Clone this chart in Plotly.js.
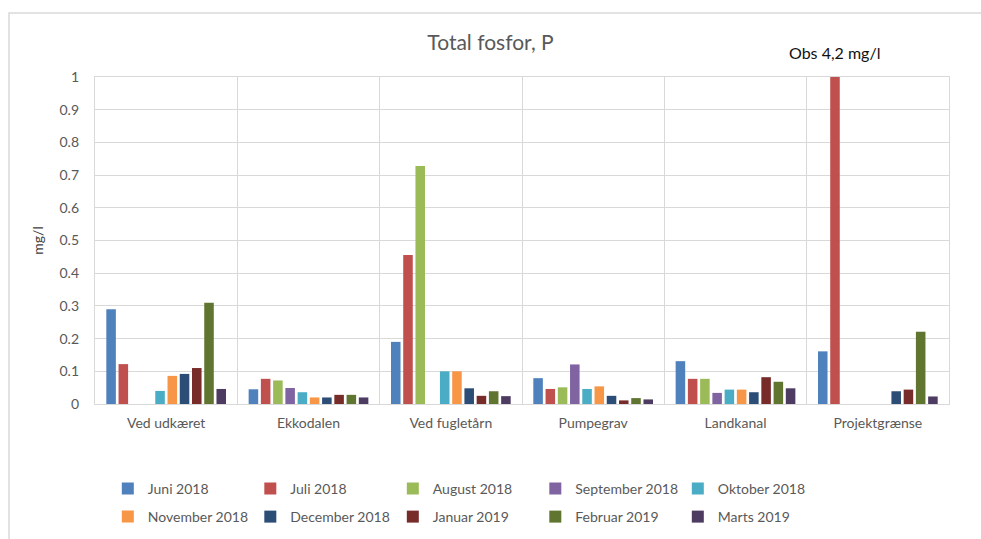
<!DOCTYPE html>
<html>
<head>
<meta charset="utf-8">
<script src="https://cdn.plot.ly/plotly-3.0.1.min.js"></script>
<style>
html,body{margin:0;padding:0;background:#fff;}
#chart{width:981px;height:539px;}
</style>
</head>
<body>
<div id="chart"></div>
<script>
var categories = ["Ved udkæret", "Ekkodalen", "Ved fugletårn", "Pumpegrav", "Landkanal", "Projektgrænse"];
var months = ["Juni 2018", "Juli 2018", "August 2018", "September 2018", "Oktober 2018",
              "November 2018", "December 2018", "Januar 2019", "Februar 2019", "Marts 2019"];
var colors = ["#4F81BD", "#C0504D", "#9BBB59", "#8064A2", "#4BACC6",
              "#F79646", "#2C4D75", "#772C2A", "#5F7530", "#4D3B62"];

var juni2018      = [0.29, 0.045, 0.19, 0.079, 0.131, 0.161];
var juli2018      = [0.122, 0.077, 0.456, 0.046, 0.077, 4.2];
var august2018    = [null, 0.072, 0.728, 0.051, 0.077, null];
var september2018 = [null, 0.049, null, 0.121, 0.034, null];
var oktober2018   = [0.04, 0.036, 0.10, 0.046, 0.044, null];
var november2018  = [0.086, 0.02, 0.10, 0.054, 0.044, null];
var december2018  = [0.092, 0.02, 0.048, 0.025, 0.036, 0.039];
var januar2019    = [0.11, 0.028, 0.025, 0.011, 0.082, 0.044];
var februar2019   = [0.31, 0.028, 0.039, 0.018, 0.068, 0.221];
var marts2019     = [0.046, 0.02, 0.024, 0.014, 0.048, 0.023];

var series = [juni2018, juli2018, august2018, september2018, oktober2018,
              november2018, december2018, januar2019, februar2019, marts2019];

var yTickVals = [0, 0.1, 0.2, 0.3, 0.4, 0.5, 0.6, 0.7, 0.8, 0.9, 1];
var titleText = "Total fosfor, P";
var yTitle = "mg/l";
var noteText = "Obs 4,2 mg/l";

var FONT = "Lato, 'Open Sans', sans-serif";
var GRAY = "#595959";

var traces = series.map(function (vals, i) {
  return {
    type: "bar",
    name: months[i],
    x: categories,
    y: vals,
    marker: {color: colors[i]},
    legend: i < 5 ? "legend" : "legend2",
    hoverinfo: "x+y+name"
  };
});

var legendCommon = {
  orientation: "h",
  xanchor: "left",
  yanchor: "middle",
  yref: "container",
  x: 0.015,
  entrywidth: 97.5,
  entrywidthmode: "pixels",
  font: {family: FONT, size: 14, color: GRAY},
  bgcolor: "rgba(0,0,0,0)",
  traceorder: "normal",
  itemclick: false,
  itemdoubleclick: false
};

var layout = {
  width: 981,
  height: 539,
  margin: {l: 95, r: 32, t: 77, b: 135},
  paper_bgcolor: "#ffffff",
  plot_bgcolor: "#ffffff",
  font: {family: FONT, color: GRAY},
  title: {
    text: titleText,
    font: {family: FONT, size: 21, color: GRAY},
    x: 0.5, xref: "container", xanchor: "center",
    y: 0.920, yref: "container", yanchor: "middle"
  },
  barmode: "group",
  bargap: 0.14,
  bargroupgap: 0.22,
  xaxis: {
    type: "category",
    tickson: "boundaries",
    showgrid: true,
    gridcolor: "#D9D9D9",
    gridwidth: 1.3,
    showline: true,
    mirror: true,
    linecolor: "#D9D9D9",
    linewidth: 1.3,
    ticks: "",
    ticklabelstandoff: 6,
    tickfont: {family: FONT, size: 14, color: GRAY},
    zeroline: false
  },
  yaxis: {
    range: [0, 1],
    tickvals: yTickVals,
    tickmode: "array",
    showgrid: true,
    gridcolor: "#D9D9D9",
    gridwidth: 1.3,
    showline: true,
    mirror: true,
    linecolor: "#D9D9D9",
    linewidth: 1.3,
    zeroline: false,
    ticks: "",
    ticklabelstandoff: 12,
    tickfont: {family: FONT, size: 14, color: GRAY},
    title: {text: yTitle, font: {family: FONT, size: 14, color: "#404040"}, standoff: 12}
  },
  legend: Object.assign({}, legendCommon, {y: 0.0928}),
  legend2: Object.assign({}, legendCommon, {y: 0.0408}),
  annotations: [{
    text: noteText,
    xref: "x", yref: "paper",
    x: categories[5], xshift: -43,
    y: 1.075, yanchor: "middle", xanchor: "center",
    showarrow: false,
    font: {family: FONT, size: 16, color: "#111111"}
  }],
  shapes: [{
    type: "rect", xref: "paper", yref: "paper",
    x0: -0.1007, x1: 1.2, y0: -0.6, y1: 1.1957,
    line: {color: "#D9D9D9", width: 1.5},
    fillcolor: "rgba(0,0,0,0)",
    layer: "below"
  }]
};

Plotly.newPlot("chart", traces, layout, {displayModeBar: false, responsive: false});
</script>
</body>
</html>
